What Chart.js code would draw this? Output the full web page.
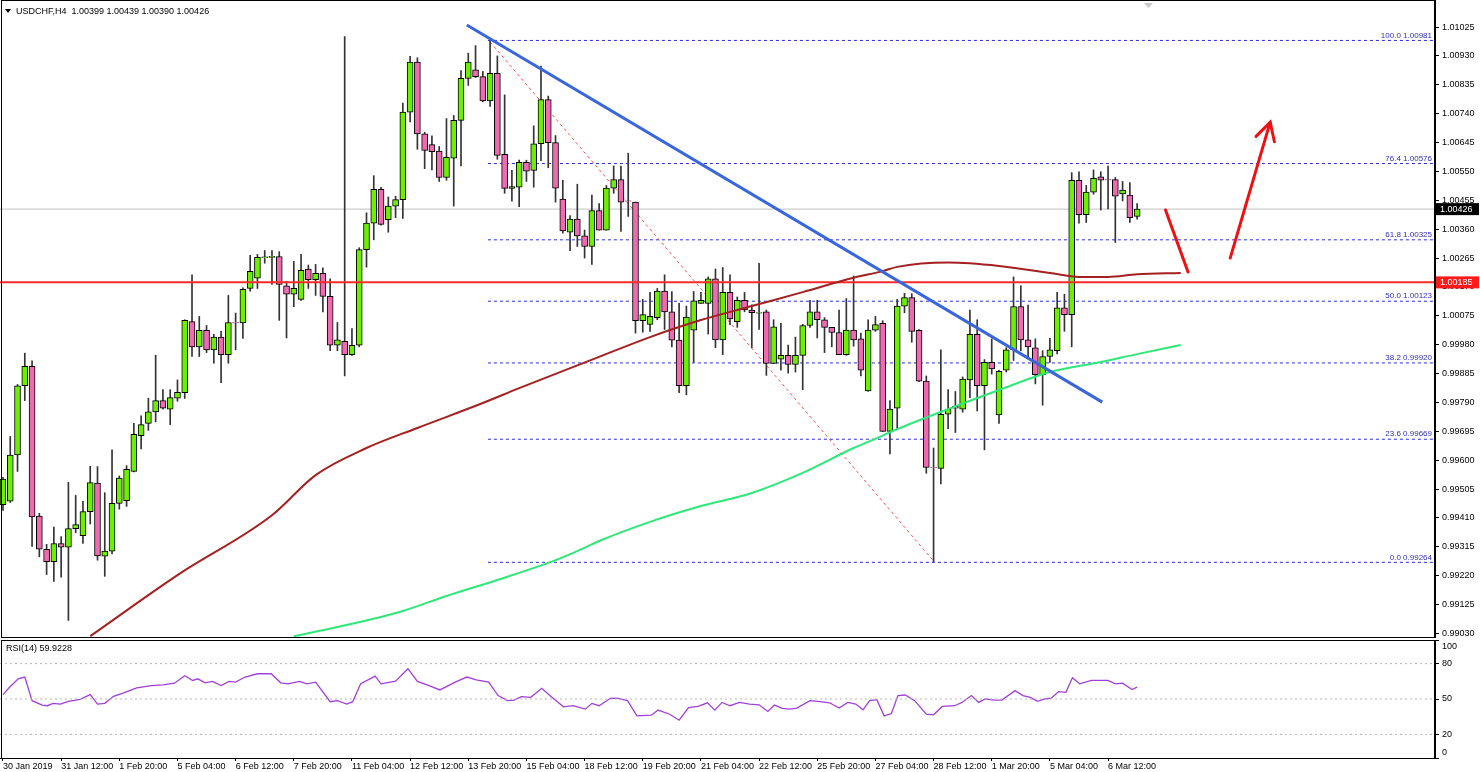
<!DOCTYPE html>
<html><head><meta charset="utf-8">
<script src="https://cdn.jsdelivr.net/npm/chart.js@4.4.1/dist/chart.umd.min.js"></script>
<style>html,body{margin:0;padding:0;background:#fff;overflow:hidden}
#m{position:absolute;left:0;top:0}#r{position:absolute;left:0;top:638px}</style>
</head><body>
<canvas id="m" width="1480" height="638"></canvas>
<canvas id="r" width="1480" height="134"></canvas>
<script>
const OPEN=[.99454,.99465,.99617,.99845,.99909,.99416,.99307,.99266,.99326,.99314,.99375,.99352,.99431,.99525,.99284,.99301,.99458,.99467,.99563,.99681,.99721,.99759,.99796,.99768,.99804,.99822,1.00056,.99973,1.00027,.99963,1.00005,.99947,1.00053,1.00052,1.00165,1.00199,1.00267,1.00268,1.00270,1.00174,1.00146,1.00129,1.00229,1.00194,1.00215,1.00139,.99978,.99991,.99947,.99978,1.00293,1.00380,1.00491,1.00391,1.00436,1.00457,1.00745,1.00910,1.00674,1.00638,1.00617,1.00530,1.00594,1.00718,1.00856,1.00884,1.00862,1.00782,1.00873,1.00606,1.00494,1.00498,1.00580,1.00553,1.00641,1.00786,1.00645,1.00459,1.00350,1.00393,1.00338,1.00303,1.00421,1.00357,1.00495,1.00523,1.00453,1.00449,1.00059,1.00047,1.00069,1.00156,1.00088,.99995,.99845,1.00028,1.00116,1.00116,1.00197,.99996,1.00152,1.00056,1.00126,1.00094,1.00085,1.00088,.99918,.99932,.99945,.99915,.99945,1.00043,1.00088,1.00062,1.00037,1.00020,.99947,1.00028,.99999,.99828,1.00028,1.00050,.99695,.99771,1.00107,1.00135,1.00027,.99860,.99576,.99573,.99751,.99777,.99768,.99864,1.00014,.99845,.99922,.99749,.99896,.99963,1.00105,.99996,.99970,.99881,.99941,.99960,1.00101,1.00079,1.00521,1.00408,1.00482,1.00532,1.00523,1.00523,1.00476,1.00472,1.00402];
const HIGH=[.99544,.99678,.99849,.99952,.99927,.99425,.99323,.99380,.99349,.99527,.99484,.99465,.99580,.99579,.99493,.99634,.99548,.99582,.99721,.99746,.99804,.99945,.99832,.99832,.99864,1.00062,1.00210,1.00073,1.00043,1.00014,1.00024,1.00142,1.00084,1.00167,1.00274,1.00277,1.00290,1.00290,1.00286,1.00188,1.00254,1.00277,1.00242,1.00244,1.00233,1.00197,1.00053,1.00994,1.00033,1.00299,1.00414,1.00536,1.00498,1.00466,1.00468,1.00775,1.00929,1.00924,1.00679,1.00667,1.00632,1.00724,1.00734,1.00882,1.00939,1.00964,1.00879,1.00987,1.00930,1.00802,1.00554,1.00587,1.00587,1.00700,1.00897,1.00798,1.00668,1.00521,1.00405,1.00508,1.00357,1.00472,1.00444,1.00504,1.00568,1.00568,1.00610,1.00449,1.00129,1.00152,1.00165,1.00210,1.00155,1.00116,1.00107,1.00155,1.00152,1.00203,1.00229,1.00234,1.00210,1.00137,1.00152,1.00111,1.00248,1.00094,1.00062,1.00050,.99979,1.00005,1.00047,1.00126,1.00126,1.00069,1.00037,1.00094,1.00132,1.00206,1.00018,1.00062,1.00073,1.00059,.99796,1.00129,1.00149,1.00148,1.00030,.99877,.99640,.99963,.99832,.99826,.99874,1.00094,1.00062,.99931,.99999,.99896,.99970,1.00203,1.00174,1.00110,.99999,.99960,1.00001,1.00152,1.00146,1.00546,1.00549,1.00504,1.00555,1.00549,1.00568,1.00530,1.00517,1.00513,1.00444];
const LOW=[.99435,.99461,.99563,.99796,.99316,.99282,.99224,.99201,.99215,.99073,.99361,.99326,.99390,.99271,.99218,.99292,.99439,.99448,.99561,.99637,.99698,.99726,.99768,.99717,.99794,.99803,.99941,.99941,.99954,.99919,.99855,.99919,.99963,1.00001,1.00156,1.00165,1.00248,1.00178,1.00060,1.00002,1.00105,1.00126,1.00165,1.00142,1.00088,.99960,.99960,.99877,.99945,.99973,1.00235,1.00325,1.00373,1.00350,1.00398,1.00395,1.00713,1.00623,1.00559,1.00555,1.00517,1.00521,1.00436,1.00568,1.00833,1.00859,1.00779,1.00764,1.00590,1.00478,1.00452,1.00434,1.00517,1.00498,1.00585,1.00562,1.00449,1.00347,1.00289,1.00303,1.00265,1.00244,1.00357,1.00357,1.00478,1.00353,1.00402,1.00018,1.00021,1.00024,1.00062,1.00030,.99973,.99822,.99815,.99922,1.00116,1.00015,.99970,.99947,1.00046,1.00037,1.00088,.99970,1.00030,.99879,.99918,.99896,.99886,.99890,.99832,1.00037,1.00002,.99954,.99973,.99947,.99945,.99975,.99877,.99826,1.00024,.99694,.99621,.99704,1.00085,.99988,.99858,.99557,.99266,.99522,.99704,.99691,.99758,.99806,.99762,.99634,.99883,.99721,.99890,.99928,.99960,.99937,.99851,.99781,.99922,.99950,1.00024,.99973,1.00380,1.00382,1.00475,1.00423,1.00427,1.00316,1.00453,1.00382,1.00393];
const CLOSE=[.99538,.99617,.99845,.99909,.99413,.99307,.99266,.99326,.99314,.99375,.99388,.99431,.99526,.99285,.99301,.99458,.99541,.99570,.99685,.99717,.99759,.99796,.99771,.99806,.99823,1.00060,.99973,1.00027,.99963,1.00005,.99947,1.00053,1.00052,1.00162,1.00221,1.00267,1.00268,1.00270,1.00178,1.00146,1.00165,1.00225,1.00194,1.00215,1.00139,.99978,.99996,.99947,.99978,1.00293,1.00380,1.00491,1.00376,1.00436,1.00457,1.00745,1.00910,1.00673,1.00619,1.00615,1.00530,1.00596,1.00718,1.00856,1.00910,1.00862,1.00782,1.00873,1.00603,1.00494,1.00500,1.00580,1.00551,1.00641,1.00786,1.00645,1.00495,1.00354,1.00393,1.00338,1.00303,1.00421,1.00357,1.00495,1.00523,1.00449,1.00452,1.00059,1.00079,1.00073,1.00156,1.00088,.99995,.99845,1.00071,1.00124,1.00126,1.00197,.99996,1.00152,1.00065,1.00126,1.00094,1.00085,1.00085,.99918,1.00039,.99945,.99915,.99945,1.00043,1.00088,1.00062,1.00037,1.00020,.99947,1.00028,.99996,.99896,1.00028,1.00046,.99695,.99768,1.00107,1.00135,1.00024,.99860,.99576,.99575,.99751,.99768,.99771,.99867,1.00014,.99845,.99922,.99900,.99892,.99963,1.00105,.99996,.99973,.99881,.99941,.99963,1.00101,1.00079,1.00521,1.00408,1.00482,1.00527,1.00521,1.00522,1.00469,1.00489,1.00398,1.00426];

const MA_SLOW_X=[12,24,37,43,50,57,66,71,79,82,89,96,103,110,117,121,123,130,137,144,148,152,156,162];
const MA_SLOW_Y=[.99021,.99222,.99419,.99551,.99640,.99706,.99788,.99837,.99912,.99940,1.00005,1.00061,1.00107,1.00153,1.00200,1.00222,1.00236,1.00250,1.00239,1.00216,1.00203,1.00203,1.00212,1.00216];
const MA_LONG_X=[40,46,55,61,68,75,79,82,89,96,103,110,117,119,123,130,137,144,151,156,162];
const MA_LONG_Y=[.99021,.99051,.99104,.99153,.99206,.99262,.99301,.99334,.99397,.99449,.99492,.99558,.99640,.99660,.99702,.99768,.99831,.99890,.99923,.99949,.99979];

const RSI_X=[0,0.9,2.1,3,4,5.4,6.1,6.9,7.9,9,10.6,12,13,14,15.2,16.5,18.4,20.4,22,23.6,25,26.1,26.8,27.8,28.8,30,31.1,32,33.3,35,36.9,38.2,39.2,40.8,41.8,43,45,46,47.3,48.1,49.2,51.2,52,54,55.7,57,58.6,60.1,62.2,63.8,65.1,66.8,68.1,69.4,70.3,71.3,72.6,74.1,75.5,77.1,78.4,80.1,81,82,83.6,84.6,85.9,87.2,89.2,90.1,91.7,93,94.3,95.6,96.9,97.9,98.9,100,101.3,102.7,104,105.2,106.1,107.2,108.2,109.2,111,112.4,113.7,115,116.2,117.3,118.3,119.2,120.2,121.2,122.2,123.1,124.1,125.4,127,128,129.2,130.9,131.9,133.2,134.2,135.1,136.4,137.4,139.2,140.3,141.3,142.3,143.3,144.2,145.2,146.2,147.1,148.1,149.7,152,153,154,155.3,156];
const RSI_Y=[53.7,60,67.1,68.6,48.6,44.8,44.3,46.3,45.7,48,49.7,53.7,45.7,46.3,52.3,54.9,59.4,61.4,62,63.4,69.7,65.7,67.1,63.7,64.9,61.4,64.9,64.3,68.6,71.4,71.4,63.7,62.9,64.9,62.9,64.3,47.7,48.6,45.7,47.7,62.9,69.4,62.9,65.1,75.7,64.9,61.4,57.7,64.3,68.6,66.3,64.3,52.9,48.6,49.1,52,51.4,59.1,51.4,43.4,44.3,41.4,46.3,44.3,50.8,50.6,48.6,35.7,36.3,40.6,37.1,32,42.8,43.7,46.8,40.6,47.1,44.3,47.1,45.7,45.1,39.4,44.8,42,41.4,42.3,48.6,47.7,46.8,42.3,47.1,45.7,40.8,48.6,49.4,35.7,37.7,52.9,53.4,48.6,37.1,36.6,43.7,44.3,47.1,52.9,47.1,50,49.1,49.1,57.1,52.9,51.4,48,50,50.8,56.3,55.7,68,62.9,65.7,65.7,62.9,63.4,58,60];

const PRICE_TICKS=[0.99030,0.99125,0.99220,0.99315,0.99410,0.99505,0.99600,0.99695,0.99790,0.99885,0.99980,1.00075,1.00170,1.00265,1.00360,1.00455,1.00550,1.00645,1.00740,1.00835,1.00930,1.01025];
const RSI_TICKS=[0,20,50,80,100];
const RSI_LEVELS=[20,50,80];
const TIME_TICK_IDX=[0,8,16,24,32,40,48,56,64,72,80,88,96,104,112,120,128,136,144,152];
const TIME_LABELS=['30 Jan 2019','31 Jan 12:00','1 Feb 20:00','5 Feb 04:00','6 Feb 12:00','7 Feb 20:00','11 Feb 04:00','12 Feb 12:00','13 Feb 20:00','15 Feb 04:00','18 Feb 12:00','19 Feb 20:00','21 Feb 04:00','22 Feb 12:00','25 Feb 20:00','27 Feb 04:00','28 Feb 12:00','1 Mar 20:00','5 Mar 04:00','6 Mar 12:00'];

const FIB_PCT=['100.0','76.4','61.8','50.0','38.2','23.6','0.0'];
const FIB_LEVELS=[1.00981,1.00576,1.00325,1.00123,0.99920,0.99669,0.99264];
const FIB_START=66.7;
const TREND_X=[63.8,151.2], TREND_Y=[1.01032,0.99791];
const DIAG_X=[67,127.9], DIAG_Y=[1.00976,0.99271];
const ARROW1_X=[159.9,163], ARROW1_Y=[1.00423,1.00219];
const ARROW2_X=[168.8,174.3], ARROW2_Y=[1.00265,1.00712];
const RES_LEVEL=1.00185, LAST_PRICE=1.00426;
const TITLE='USDCHF,H4  1.00399 1.00439 1.00390 1.00426';
const RSI_TITLE='RSI(14) 59.9228';

const XMIN=-0.41, XMAX=196.97;
const FONT='"Liberation Sans", Arial, sans-serif';
const GREEN='#6cf000', PINK='#f06ab0';
const pts=(xs,ys)=>xs.map((x,i)=>({x,y:ys[i]}));
const hline=(v)=>[{x:XMIN,y:v},{x:XMAX,y:v}];

const wick=[],body=[],bcol=[];
for(let i=0;i<OPEN.length;i++){
  wick.push({x:i,y:[LOW[i],HIGH[i]]});
  let o=OPEN[i],c=CLOSE[i];
  if(Math.abs(o-c)<0.00002){o-=0.00001;c+=0.00001;}
  body.push({x:i,y:[o,c]});
  bcol.push(CLOSE[i]>=OPEN[i]?GREEN:PINK);
}
const lineDs=(data,color,w,extra)=>Object.assign({type:'line',data,borderColor:color,borderWidth:w,pointRadius:0,fill:false,tension:0},extra||{});
const fibDs=FIB_LEVELS.map(v=>lineDs([{x:FIB_START,y:v},{x:XMAX,y:v}],'#2a2ae0',1,{borderDash:[3,3],order:5}));
const noPad=s=>{s.paddingTop=0;s.paddingBottom=0;};

const mainPlugin={id:'mainDeco',afterDraw(ch){
  const c=ch.ctx,a=ch.chartArea,xs=ch.scales.x,ys=ch.scales.y;
  c.save();
  c.strokeStyle='#000';c.lineWidth=1;
  c.strokeRect(a.left+1.5,a.top+0.5,a.right-a.left-2,a.bottom-a.top-1);
  c.fillStyle='#000';c.beginPath();c.moveTo(5,9);c.lineTo(11,9);c.lineTo(8,13);c.closePath();c.fill();
  c.font='9px '+FONT;c.textBaseline='middle';c.textAlign='left';
  c.fillText(TITLE,16,11.5);
  c.fillStyle='#c8c8c8';c.beginPath();c.moveTo(1144,3);c.lineTo(1153,3);c.lineTo(1148.5,8);c.closePath();c.fill();
  c.font='8px '+FONT;c.textAlign='right';c.textBaseline='bottom';c.fillStyle='#3030b0';
  FIB_LEVELS.forEach((v,i)=>{c.fillText(FIB_PCT[i]+' '+v.toFixed(5),a.right-3,ys.getPixelForValue(v)-1);});
  const tx=xs.getPixelForValue(ARROW2_X[1]),ty=ys.getPixelForValue(ARROW2_Y[1]);
  const fx=xs.getPixelForValue(ARROW2_X[0]),fy=ys.getPixelForValue(ARROW2_Y[0]);
  const ang=Math.atan2(ty-fy,tx-fx),L=20;
  c.strokeStyle='#ee1111';c.lineWidth=3;c.lineCap='round';
  c.beginPath();
  c.moveTo(tx-L*Math.cos(ang-0.5),ty-L*Math.sin(ang-0.5));c.lineTo(tx,ty);
  c.lineTo(tx-L*Math.cos(ang+0.5),ty-L*Math.sin(ang+0.5));c.stroke();
  const box=(v,bg)=>{const y=ys.getPixelForValue(v);c.fillStyle=bg;c.fillRect(a.right+1,y-6,43,12);
    c.fillStyle='#fff';c.font='9px '+FONT;c.textAlign='left';c.textBaseline='middle';c.fillText(v.toFixed(5),a.right+5,y+0.5);};
  box(LAST_PRICE,'#000');box(RES_LEVEL,'#ff1a1a');
  c.restore();
}};

new Chart(document.getElementById('m'),{
  type:'bar',
  data:{datasets:[
    {type:'bar',data:wick,backgroundColor:'#333',barThickness:1,grouped:false,order:3},
    {type:'bar',data:body,backgroundColor:bcol,borderColor:'#000',borderWidth:1,borderSkipped:false,barThickness:6,grouped:false,order:2},
    lineDs(hline(LAST_PRICE),'#c0c0c0',1,{order:6}),
    ...fibDs,
    lineDs(pts(MA_SLOW_X,MA_SLOW_Y),'#a52020',2,{cubicInterpolationMode:'monotone',order:1}),
    lineDs(pts(MA_LONG_X,MA_LONG_Y),'#2ee87a',2,{cubicInterpolationMode:'monotone',order:1}),
    lineDs(hline(RES_LEVEL),'#ff2a2a',2,{order:1}),
    lineDs(pts(TREND_X,TREND_Y),'#3a66dd',3,{order:0}),
    lineDs(pts(DIAG_X,DIAG_Y),'#ff5050',1,{borderDash:[3,3],order:4}),
    lineDs(pts(ARROW1_X,ARROW1_Y),'#ee1111',3,{order:0,borderCapStyle:'round'}),
    lineDs(pts(ARROW2_X,ARROW2_Y),'#ee1111',3,{order:0,borderCapStyle:'round'})
  ]},
  options:{responsive:false,animation:false,devicePixelRatio:1,
    layout:{padding:0},
    plugins:{legend:{display:false},tooltip:{enabled:false}},
    scales:{
      x:{type:'linear',min:XMIN,max:XMAX,display:false,offset:false},
      y:{position:'right',min:0.99015,max:1.01114,
        afterFit(s){s.width=45;noPad(s);},
        afterBuildTicks(s){s.ticks=PRICE_TICKS.map(v=>({value:v}));},
        ticks:{font:{size:9,family:FONT},color:'#000',padding:3,autoSkip:false,callback:v=>v.toFixed(5)},
        grid:{drawOnChartArea:false,tickLength:4,color:'#000'},border:{color:'#000'}}
    }},
  plugins:[mainPlugin]
});

const rsiPlugin={id:'rsiDeco',afterDraw(ch){
  const c=ch.ctx,a=ch.chartArea,ys=ch.scales.y;c.save();
  c.strokeStyle='#000';c.lineWidth=1;
  c.strokeRect(a.left+1.5,a.top+0.5,a.right-a.left-2,a.bottom-a.top);
  c.fillStyle='#000';c.font='9px '+FONT;c.textBaseline='middle';c.textAlign='left';
  c.fillText(RSI_TITLE,6,a.top+9);
  c.fillText(String(RSI_TICKS[4]),a.right+7,ys.getPixelForValue(100)+7);
  c.fillText(String(RSI_TICKS[0]),a.right+7,ys.getPixelForValue(0)-5);
  c.restore();
}};
new Chart(document.getElementById('r'),{
  type:'line',
  data:{datasets:[
    ...RSI_LEVELS.map(v=>lineDs(hline(v),'#b8b8b8',1,{borderDash:[2,3]})),
    lineDs(pts(RSI_X,RSI_Y),'#a040d8',1.3)
  ]},
  options:{responsive:false,animation:false,devicePixelRatio:1,
    layout:{padding:{top:2,left:0,right:0,bottom:0}},
    plugins:{legend:{display:false},tooltip:{enabled:false}},
    scales:{
      x:{type:'linear',min:XMIN,max:XMAX,
        afterFit(s){s.height=14;s.paddingLeft=0;s.paddingRight=0;},
        afterBuildTicks(s){s.ticks=TIME_TICK_IDX.map(v=>({value:v}));},
        ticks:{font:{size:9,family:FONT},color:'#000',padding:0,autoSkip:false,maxRotation:0,align:'start',
          callback:(v)=>{const k=TIME_TICK_IDX.indexOf(v);return k>=0?TIME_LABELS[k]:'';}},
        grid:{drawOnChartArea:false,tickLength:3,color:'#000'},border:{color:'#000'}},
      y:{position:'right',min:0,max:100,
        afterFit(s){s.width=45;noPad(s);},
        afterBuildTicks(s){s.ticks=RSI_TICKS.map(v=>({value:v}));},
        ticks:{font:{size:9,family:FONT},color:'#000',padding:3,autoSkip:false,callback:v=>(v===0||v===100)?'':String(v)},
        grid:{drawOnChartArea:false,tickLength:4,color:'#000'},border:{color:'#000'}}
    }},
  plugins:[rsiPlugin]
});
</script>
</body></html>
